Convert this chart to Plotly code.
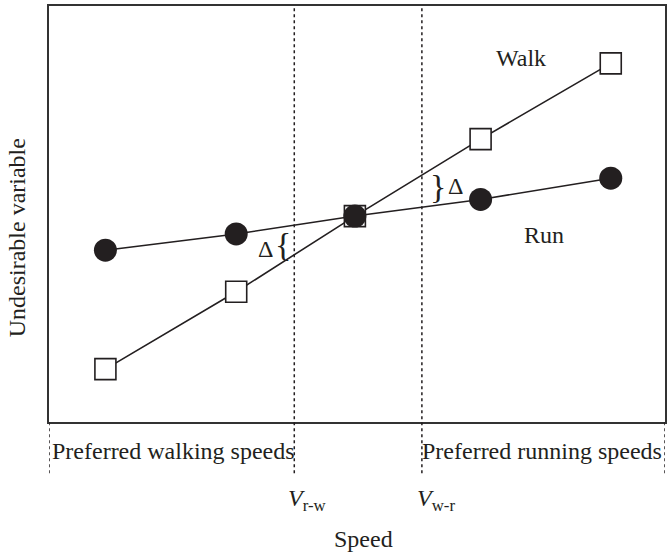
"""Walk/run transition diagram: undesirable variable vs speed."""

import plotly.graph_objects as go

# speeds (arbitrary units) and undesirable-variable values
walk_speed = [1.04, 3.09, 4.95, 6.92, 8.96]
walk_value = [1.27, 3.13, 4.95, 6.80, 8.62]
run_speed = [1.04, 3.09, 4.95, 6.92, 8.96]
run_value = [4.13, 4.52, 4.95, 5.35, 5.86]

# transition speeds
v_rw = 4.0
v_ww = 6.0
x_min, x_max = 0.156, 9.81

FONT = "Liberation Serif, Times New Roman, serif"
INK = "#231f20"

walk = go.Scatter(
    x=walk_speed, y=walk_value, mode="lines+markers", name="Walk",
    line=dict(color=INK, width=1.6),
    marker=dict(symbol="square", size=21, color="white",
                line=dict(color=INK, width=1.6)),
)
run = go.Scatter(
    x=run_speed, y=run_value, mode="lines+markers", name="Run",
    line=dict(color=INK, width=1.6),
    marker=dict(symbol="circle", size=23, color=INK,
                line=dict(color=INK, width=0)),
)

fig = go.Figure(data=[walk, run])

# dotted guide lines
shapes = []
for xv, top in [(v_rw, 1), (v_ww, 1), (x_min, 0), (x_max, 0)]:
    shapes.append(dict(type="line", xref="x", yref="paper", x0=xv, x1=xv,
                       y0=-0.123, y1=top,
                       line=dict(color=INK, width=1.5, dash="dot")))

txt = dict(family=FONT, size=24, color=INK)
brace = dict(family=FONT, size=34, color=INK)
annotations = [
    dict(x=7.56, y=8.75, text="Walk", showarrow=False, font=txt),
    dict(x=7.91, y=4.5, text="Run", showarrow=False, font=txt),
    dict(x=3.55, y=4.15, text="Δ", showarrow=False, font=txt),
    dict(x=6.52, y=5.67, text="Δ", showarrow=False, font=txt),
    dict(x=3.83, y=4.26, text="{", showarrow=False, font=brace),
    dict(x=6.25, y=5.66, text="}", showarrow=False, font=brace),
    dict(x=x_min, y=-0.106, xref="x", yref="paper", xanchor="left",
         text="Preferred walking speeds", showarrow=False, font=txt, xshift=1),
    dict(x=x_max, y=-0.106, xref="x", yref="paper", xanchor="right",
         text="Preferred running speeds", showarrow=False, font=txt, xshift=-1),
    dict(x=v_rw, y=-0.229, xref="x", yref="paper", xanchor="left",
         text="<i>V</i><sub>r-w</sub>", showarrow=False, font=txt, xshift=-8),
    dict(x=v_ww, y=-0.229, xref="x", yref="paper", xanchor="left",
         text="<i>V</i><sub>w-r</sub>", showarrow=False, font=txt, xshift=-7),
    dict(x=0.51, y=-0.317, xref="paper", yref="paper",
         text="Speed", showarrow=False, font=txt),
    dict(x=-0.076, y=0.442, xref="paper", yref="paper", textangle=-90,
         text="Undesirable variable", showarrow=False, font=txt),
]

fig.update_layout(
    width=668, height=554,
    margin=dict(l=49, r=1, t=6, b=132),
    plot_bgcolor="white", paper_bgcolor="white",
    showlegend=False,
    shapes=shapes,
    annotations=annotations,
    xaxis=dict(range=[x_min, x_max], showgrid=False, zeroline=False,
               showticklabels=False, ticks="", showline=True, mirror=True,
               linecolor="#333", linewidth=2),
    yaxis=dict(range=[0, 10], showgrid=False, zeroline=False,
               showticklabels=False, ticks="", showline=True, mirror=True,
               linecolor="#333", linewidth=2),
)

# drop the default page margin so the figure sits at the window corner
fig.write_html("out.html", config={"displayModeBar": False},
               post_script="document.body.style.margin='0px';")
